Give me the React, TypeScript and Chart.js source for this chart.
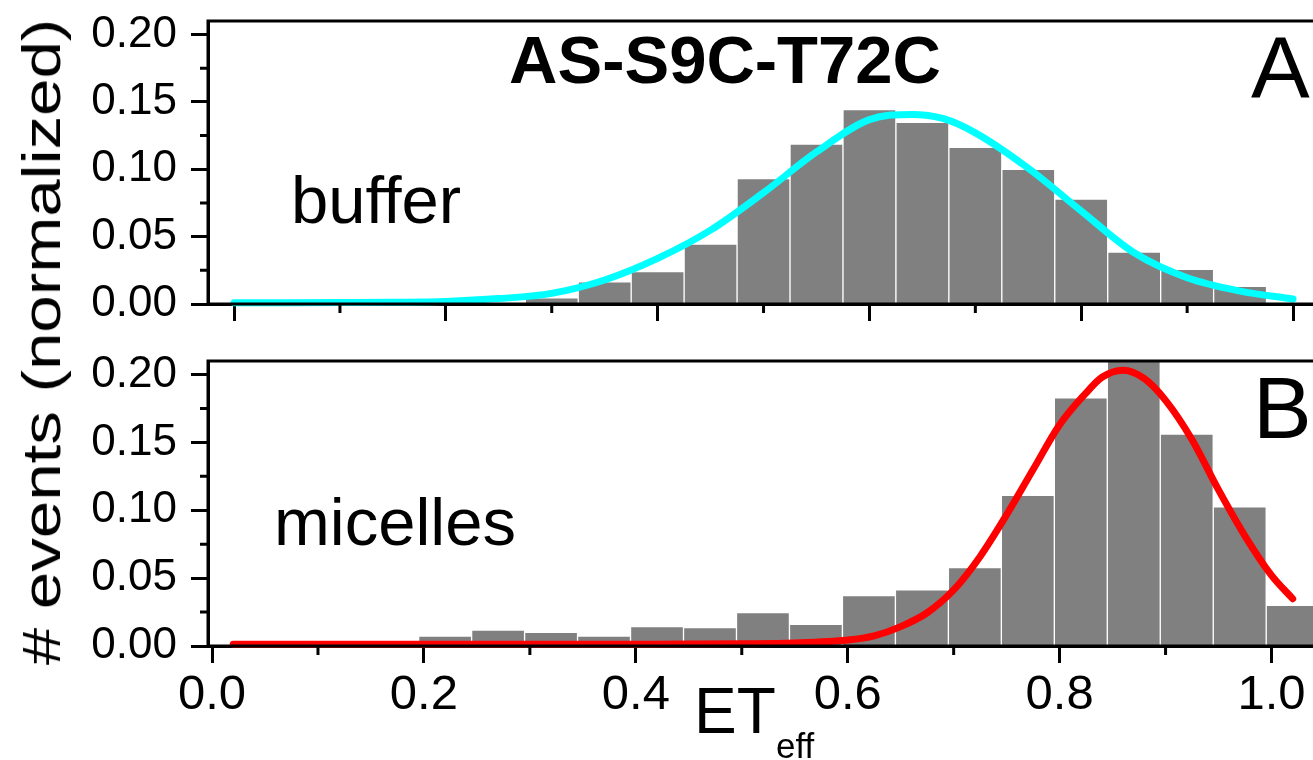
import React, { useEffect, useRef } from "react";
import { Chart, registerables } from "chart.js";

Chart.register(...registerables);

const FONT = "'Liberation Sans', Arial, Helvetica, sans-serif";

// ---- Panel A: buffer ----
const BUFFER_BIN_CENTERS = [0.15, 0.3, 0.35, 0.4, 0.45, 0.5, 0.55, 0.6, 0.65, 0.7, 0.75, 0.8, 0.85, 0.9, 0.95];
const BUFFER_FRACTIONS = [0.004, 0.0045, 0.0165, 0.024, 0.0445, 0.093, 0.1187, 0.1442, 0.1348, 0.1163, 0.1, 0.0778, 0.0385, 0.0257, 0.0131];
const BUFFER_FIT_X = [0, 0.05, 0.1, 0.15, 0.2, 0.25, 0.3, 0.35, 0.4, 0.45, 0.5, 0.55, 0.6, 0.64, 0.67, 0.7, 0.75, 0.8, 0.85, 0.9, 0.95, 1.0];
const BUFFER_FIT_Y = [0.001, 0.001, 0.0011, 0.0013, 0.0019, 0.004, 0.0079, 0.0178, 0.0338, 0.0548, 0.0826, 0.1128, 0.1368, 0.1407, 0.1375, 0.127, 0.1007, 0.069, 0.038, 0.0195, 0.0096, 0.0037];

// ---- Panel B: micelles ----
const MICELLE_BIN_CENTERS = [0.17, 0.22, 0.27, 0.32, 0.37, 0.42, 0.47, 0.52, 0.57, 0.62, 0.67, 0.72, 0.77, 0.82, 0.87, 0.92, 0.97, 1.02];
const MICELLE_FRACTIONS = [0.0032, 0.0074, 0.0118, 0.0101, 0.0074, 0.0143, 0.0135, 0.0246, 0.016, 0.0371, 0.0413, 0.0578, 0.111, 0.1828, 0.215, 0.1562, 0.1026, 0.03];
const MICELLE_FIT_X = [0.02, 0.1, 0.2, 0.3, 0.4, 0.45, 0.5, 0.55, 0.6, 0.625, 0.65, 0.675, 0.7, 0.725, 0.75, 0.775, 0.8, 0.825, 0.84, 0.86, 0.88, 0.9, 0.925, 0.95, 0.975, 1.0, 1.02];
const MICELLE_FIT_Y = [0.0012, 0.0012, 0.0012, 0.0012, 0.0013, 0.0014, 0.0016, 0.0022, 0.0044, 0.0075, 0.0143, 0.0245, 0.0413, 0.066, 0.0967, 0.13, 0.163, 0.1865, 0.198, 0.2032, 0.197, 0.181, 0.152, 0.115, 0.081, 0.052, 0.0348];

const X_MAJOR_TICKS = [0, 0.2, 0.4, 0.6, 0.8, 1.0];
const X_MINOR_TICKS = [0.1, 0.3, 0.5, 0.7, 0.9];
const Y_MAJOR_TICKS = [0, 0.05, 0.1, 0.15, 0.2];
const Y_MINOR_TICKS = [0.025, 0.075, 0.125, 0.175];

const TITLE = "AS-S9C-T72C";
const Y_TITLE = "# events (normalized)";

type Note = { text: string; x: number; y: number; size: number; bold?: boolean; align?: CanvasTextAlign };

function overlayPlugin(notes: Note[]) {
  return {
    id: "overlay",
    afterDraw(chart: any) {
      const { ctx, chartArea: a, scales } = chart;
      ctx.save();
      ctx.strokeStyle = "#000";
      ctx.lineWidth = 3;
      ctx.strokeRect(a.left, a.top, a.right - a.left, a.bottom - a.top);
      ctx.beginPath();
      for (const v of X_MINOR_TICKS) {
        const px = scales.x.getPixelForValue(v);
        ctx.moveTo(px, a.bottom);
        ctx.lineTo(px, a.bottom + 9);
      }
      for (const v of Y_MINOR_TICKS) {
        const py = scales.y.getPixelForValue(v);
        ctx.moveTo(a.left, py);
        ctx.lineTo(a.left - 8, py);
      }
      ctx.stroke();
      ctx.fillStyle = "#000";
      ctx.textBaseline = "alphabetic";
      for (const n of notes) {
        ctx.font = `${n.bold ? "bold " : ""}${n.size}px ${FONT}`;
        ctx.textAlign = n.align || "left";
        ctx.fillText(n.text, n.x, n.y);
      }
      ctx.restore();
    },
  };
}

function buildConfig(
  bins: number[],
  fractions: number[],
  fitX: number[],
  fitY: number[],
  lineColor: string,
  xMin: number,
  xMax: number,
  showXLabels: boolean,
  xAxisHeight: number,
  notes: Note[]
): any {
  return {
    type: "bar",
    data: {
      datasets: [
        {
          type: "line",
          data: fitX.map((x, i) => ({ x, y: fitY[i] })),
          borderColor: lineColor,
          borderWidth: 7,
          pointRadius: 0,
          cubicInterpolationMode: "monotone",
          borderCapStyle: "round",
          borderJoinStyle: "round",
          fill: false,
          order: 0,
          clip: 10,
        },
        {
          type: "bar",
          data: bins.map((x, i) => ({ x, y: fractions[i] })),
          backgroundColor: "#808080",
          borderColor: "#ffffff",
          borderWidth: 1,
          barPercentage: 1,
          categoryPercentage: 1,
          order: 1,
          clip: 0,
        },
      ],
    },
    options: {
      responsive: false,
      animation: false,
      devicePixelRatio: 1,
      layout: { padding: { top: 21, right: 10, left: 0, bottom: 0 }, autoPadding: false },
      plugins: { legend: { display: false }, tooltip: { enabled: false } },
      scales: {
        x: {
          type: "linear",
          min: xMin,
          max: xMax,
          offset: false,
          grid: {
            offset: false,
            display: true,
            drawOnChartArea: false,
            drawTicks: true,
            tickLength: 17,
            tickWidth: 3,
            tickColor: "#000",
            color: "#000",
          },
          border: { display: true, color: "#000", width: 3 },
          ticks: {
            display: showXLabels,
            autoSkip: false,
            maxRotation: 0,
            minRotation: 0,
            padding: 3,
            color: "#000",
            font: { family: FONT, size: 49 },
            callback: (v: any) => Number(v).toFixed(1),
          },
          afterBuildTicks: (s: any) => {
            s.ticks = X_MAJOR_TICKS.map((value) => ({ value }));
          },
          afterFit: (s: any) => {
            s.height = xAxisHeight;
            s.paddingLeft = 0;
            s.paddingRight = 0;
          },
        },
        y: {
          type: "linear",
          min: 0,
          max: 0.21,
          grid: {
            display: true,
            drawOnChartArea: false,
            drawTicks: true,
            tickLength: 17,
            tickWidth: 3,
            tickColor: "#000",
            color: "#000",
          },
          border: { display: true, color: "#000", width: 3 },
          ticks: {
            padding: 14,
            color: "#000",
            font: { family: FONT, size: 44 },
            callback: (v: any) => Number(v).toFixed(2),
          },
          afterBuildTicks: (s: any) => {
            s.ticks = Y_MAJOR_TICKS.map((value) => ({ value }));
          },
          afterFit: (s: any) => {
            s.width = 208;
            s.paddingTop = 0;
            s.paddingBottom = 0;
          },
        },
      },
    },
    plugins: [overlayPlugin(notes)],
  };
}

export default function App() {
  const topRef = useRef<HTMLCanvasElement | null>(null);
  const botRef = useRef<HTMLCanvasElement | null>(null);

  useEffect(() => {
    document.body.style.margin = "0";
    const top = new Chart(
      topRef.current as HTMLCanvasElement,
      buildConfig(
        BUFFER_BIN_CENTERS,
        BUFFER_FRACTIONS,
        BUFFER_FIT_X,
        BUFFER_FIT_Y,
        "#00ffff",
        -0.0246,
        1.0349,
        false,
        36,
        [
          { text: TITLE, x: 725, y: 83, size: 67, bold: true, align: "center" },
          { text: "A", x: 1251, y: 98, size: 88 },
          { text: "buffer", x: 291, y: 223, size: 67 },
        ]
      )
    );
    const bot = new Chart(
      botRef.current as HTMLCanvasElement,
      buildConfig(
        MICELLE_BIN_CENTERS,
        MICELLE_FRACTIONS,
        MICELLE_FIT_X,
        MICELLE_FIT_Y,
        "#ff0000",
        -0.0038,
        1.0552,
        true,
        114,
        [
          { text: "B", x: 1253, y: 98, size: 88 },
          { text: "micelles", x: 274, y: 205, size: 67 },
          { text: "ET", x: 694, y: 393, size: 64 },
          { text: "eff", x: 776, y: 418, size: 35 },
        ]
      )
    );
    return () => {
      top.destroy();
      bot.destroy();
    };
  }, []);

  return (
    <div
      style={{
        position: "absolute",
        left: 0,
        top: 0,
        width: 1313,
        height: 760,
        overflow: "hidden",
        background: "#fff",
      }}
    >
      <canvas
        ref={topRef}
        width={1340}
        height={340}
        style={{ position: "absolute", left: 0, top: 0, width: "1340px", height: "340px" }}
      />
      <canvas
        ref={botRef}
        width={1340}
        height={420}
        style={{ position: "absolute", left: 0, top: 340, width: "1340px", height: "420px" }}
      />
      <div
        style={{
          position: "absolute",
          left: 41,
          top: 342,
          transform: "translate(-50%, -50%) rotate(-90deg) scaleX(1.245)",
          fontFamily: FONT,
          fontSize: 54,
          lineHeight: "54px",
          whiteSpace: "nowrap",
          color: "#000",
        }}
      >
        {Y_TITLE}
      </div>
    </div>
  );
}
